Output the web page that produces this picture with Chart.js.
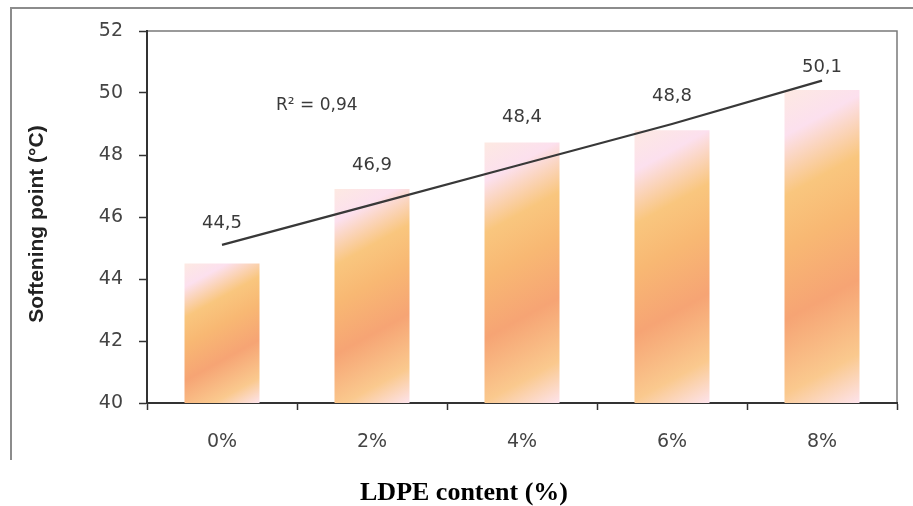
<!DOCTYPE html>
<html><head><meta charset="utf-8">
<script src="https://cdn.jsdelivr.net/npm/chart.js@4/dist/chart.umd.min.js"></script>
<style>html,body{margin:0;padding:0;background:#fff}#wrap{width:913px;height:506px}</style>
</head><body><div id="wrap"><canvas id="c" width="913" height="506"></canvas></div>
<script>
const categories = ['0%', '2%', '4%', '6%', '8%'];
const softeningPoint = [44.5, 46.9, 48.4, 48.8, 50.1];
const trendLine = [45.1, 46.4, 47.7, 49.0, 50.4];
const valueLabels = ['44,5', '46,9', '48,4', '48,8', '50,1'];
const yTicks = [40, 42, 44, 46, 48, 50, 52];
const r2Text = 'R\u00b2 = 0,94';
const yTitle = 'Softening point (\u00b0C)';
const xTitle = 'LDPE content (%)';

const labelOffsets = [40, 24, 25, 34, 23];
const TICK_FONT = '"DejaVu Sans", Verdana, sans-serif';

function barGradient(ctx) {
  const chart = ctx.chart;
  const xs = chart.scales.x, ys = chart.scales.y;
  if (!chart.chartArea || !xs || !ys || ctx.dataIndex === undefined) return '#f8b878';
  const cx = xs.getPixelForValue(ctx.dataIndex);
  const half = (xs.width / categories.length) * 0.25;
  const y0 = ys.getPixelForValue(softeningPoint[ctx.dataIndex]);
  const y1 = ys.getPixelForValue(ys.min);
  if (![cx, half, y0, y1].every(Number.isFinite)) return '#f8b878';
  const w = 2 * half, h = y1 - y0;
  const nx = 0.55, ny = 1, nl = Math.hypot(nx, ny);
  const ux = nx / nl, uy = ny / nl;
  const proj = w * ux + h * uy;
  const x0 = cx - half;
  const g = chart.ctx.createLinearGradient(x0, y0, x0 + ux * proj, y0 + uy * proj);
  g.addColorStop(0, '#fde9e2');
  g.addColorStop(0.13, '#fce0ee');
  g.addColorStop(0.3, '#f9c67e');
  g.addColorStop(0.45, '#f8b873');
  g.addColorStop(0.65, '#f6a474');
  g.addColorStop(0.86, '#fac98e');
  g.addColorStop(1, '#fde3ec');
  return g;
}

const decor = {
  id: 'decor',
  beforeDraw(chart) {
    const c = chart.ctx;
    c.save();
    c.fillStyle = '#fff';
    c.fillRect(0, 0, chart.width, chart.height);
    c.strokeStyle = '#8c8c8c';
    c.lineWidth = 2;
    c.beginPath();
    c.moveTo(11, 460); c.lineTo(11, 8); c.lineTo(913, 8);
    c.stroke();
    const a = chart.chartArea;
    c.strokeStyle = '#7a7a7a';
    c.lineWidth = 1.5;
    c.beginPath();
    c.moveTo(a.left, a.top); c.lineTo(a.right, a.top); c.lineTo(a.right, a.bottom);
    c.stroke();
    c.restore();
  },
  afterDraw(chart) {
    const c = chart.ctx;
    const meta = chart.getDatasetMeta(1);
    c.save();
    c.fillStyle = '#3a3a3a';
    c.font = '18px ' + TICK_FONT;
    c.textAlign = 'center';
    c.textBaseline = 'middle';
    meta.data.forEach((bar, i) => {
      c.fillText(valueLabels[i], bar.x, bar.y - labelOffsets[i]);
    });
    c.font = '17px ' + TICK_FONT;
    c.textAlign = 'left';
    c.fillText(r2Text, 276, 106);
    // y title
    c.save();
    c.translate(37, 224);
    c.rotate(-Math.PI / 2);
    c.textAlign = 'center';
    c.fillStyle = '#222';
    c.font = 'bold 21px "Liberation Sans", Arial, sans-serif';
    c.fillText(yTitle, 0, 0);
    c.restore();
    // x title
    c.textAlign = 'center';
    c.fillStyle = '#000';
    c.font = 'bold 26px "Liberation Serif", "Times New Roman", serif';
    c.fillText(xTitle, 464, 493);
    c.restore();
  }
};

new Chart(document.getElementById('c'), {
  data: {
    labels: categories,
    datasets: [
      {
        type: 'line', data: trendLine, borderColor: '#383838', borderWidth: 2.2,
        pointRadius: 0, fill: false, order: 0, tension: 0
      },
      {
        type: 'bar', data: softeningPoint, backgroundColor: barGradient,
        borderWidth: 0, barPercentage: 0.5, categoryPercentage: 1, order: 1
      }
    ]
  },
  options: {
    responsive: false,
    animation: false,
    devicePixelRatio: 1,
    layout: { padding: { top: 31, right: 16, left: 0, bottom: 0 } },
    plugins: { legend: { display: false }, tooltip: { enabled: false } },
    scales: {
      x: {
        grid: { display: true, drawOnChartArea: false, offset: true, tickLength: 7, color: '#333', tickWidth: 1.5 },
        border: { color: '#333', width: 2 },
        ticks: { color: '#444', padding: 21, font: { size: 19, family: TICK_FONT } },
        afterFit(s) { s.height = 103; }
      },
      y: {
        min: 40, max: 52,
        afterBuildTicks(s) { s.ticks = yTicks.map(v => ({ value: v })); },
        grid: { display: true, drawOnChartArea: false, tickLength: 8, color: '#333', tickWidth: 1.5 },
        border: { color: '#333', width: 2 },
        ticks: { color: '#444', padding: 16, font: { size: 19, family: TICK_FONT } },
        afterFit(s) { s.width = 147; }
      }
    }
  },
  plugins: [decor]
});
</script></body></html>
